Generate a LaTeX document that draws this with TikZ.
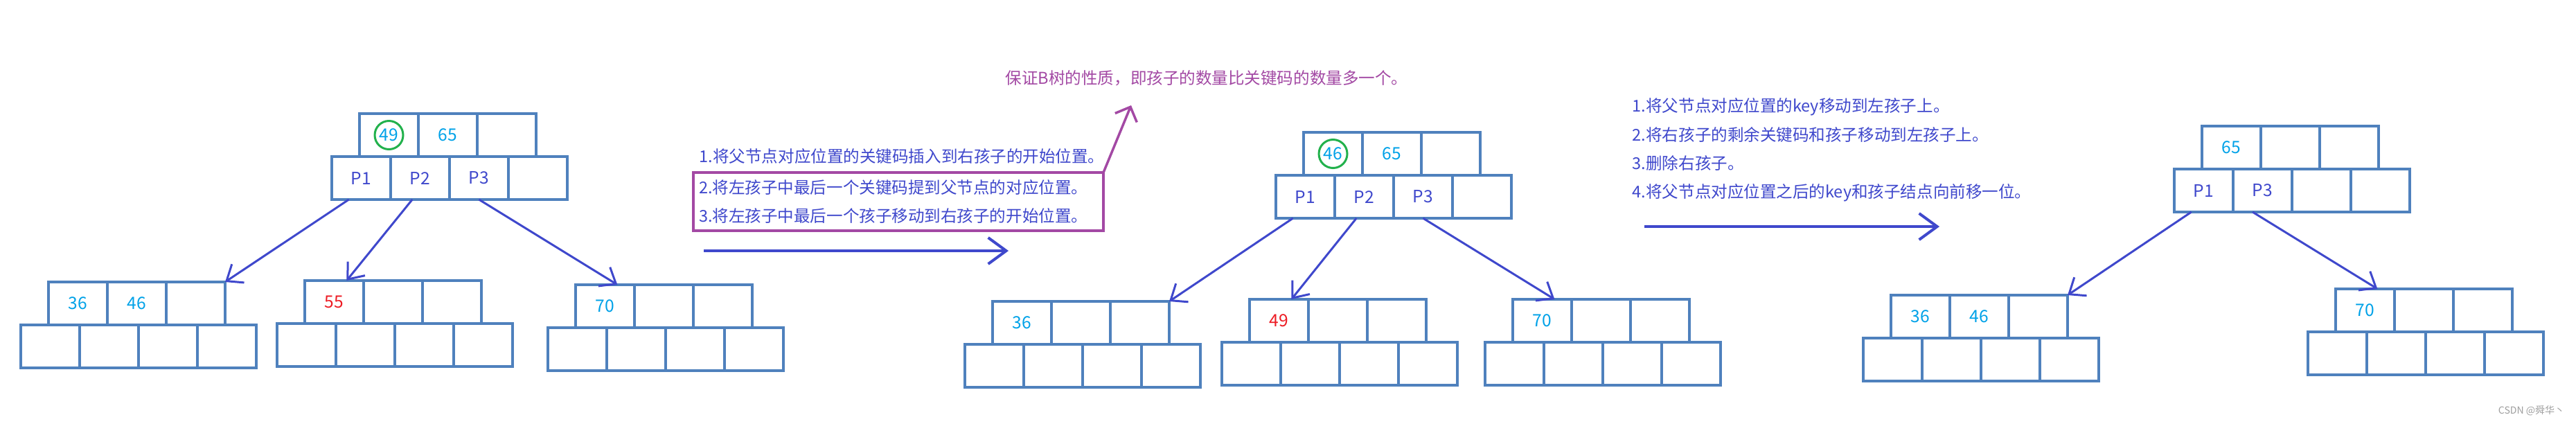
\documentclass[tikz,border=0pt]{standalone}
\usepackage{fontspec}
\setmainfont{Noto Sans CJK SC}
\usepackage{xcolor}
\usepackage{tikz}
\usetikzlibrary{arrows.meta}

\definecolor{cellblue}{RGB}{79,129,189}
\definecolor{linkblue}{RGB}{63,72,204}
\definecolor{keyblue}{RGB}{0,162,232}
\definecolor{keyred}{RGB}{237,28,36}
\definecolor{ringgreen}{RGB}{34,177,76}
\definecolor{notepurple}{RGB}{163,73,164}

% one B-tree node: name, top left of its pointer row, keys, pointers
\newcommand{\btnode}[4]{%
  \begin{scope}[shift={#2}]
    \foreach \k [count=\i] in {#3}
      \node[keycell] (#1k\i) at (\i*8.5mm-0.25mm,3.1mm) {\k};
    \foreach \p [count=\i] in {#4}
      \node[ptrcell] (#1p\i) at (\i*8.5mm-4.25mm,-3.1mm) {\p};
  \end{scope}}

\begin{document}
\begin{tikzpicture}[
      cell/.style={draw=cellblue, line width=0.45mm, minimum width=8.5mm,
                   minimum height=6.2mm, inner sep=0pt, outer sep=0pt,
                   font=\fontsize{7pt}{8pt}\selectfont},
      keycell/.style={cell, text=keyblue},
      ptrcell/.style={cell, text=linkblue},
      ring/.style={circle, draw=ringgreen, line width=0.3mm, minimum size=4.1mm,
                   inner sep=0pt},
      link/.style={draw=linkblue, line width=0.3mm,
                   -{Straight Barb[length=2mm,width=3.2mm]}},
      go/.style={draw=linkblue, line width=0.4mm,
                 -{Straight Barb[length=2.6mm,width=3.8mm]}},
      hint/.style={draw=notepurple, line width=0.35mm,
                   -{Straight Barb[length=1.7mm,width=3.4mm]}},
      note/.style={text=linkblue, inner sep=0pt, align=left,
                   font=\fontsize{6.7pt}{11.8pt}\selectfont},
      notebox/.style={draw=notepurple, line width=0.4mm, outer sep=0pt,
                      inner xsep=0.8mm, inner ysep=0.5mm, text width=57.6mm,
                      minimum height=8.4mm}]

    \path[use as bounding box, fill=white] (0,0) rectangle (371.9mm,-61.1mm);

    % first tree
    \btnode{root1}{(47.9mm,-22.6mm)}{49,65,{}}{P1,P2,P3,{}}
    \btnode{left1}{(3.0mm,-46.9mm)}{36,46,{}}{{},{},{},{}}
    \btnode{mid1}{(40.0mm,-46.7mm)}{{\textcolor{keyred}{55}},{},{}}{{},{},{},{}}
    \btnode{right1}{(79.1mm,-47.3mm)}{70,{},{}}{{},{},{},{}}
    \node[ring] (ring1) at (root1k1) {};
    \draw[link] (root1p1.-120) -- (left1k3.north east);
    \draw[link] (root1p2.-110) -- (mid1k1.60);
    \draw[link] (root1p3.south) -- (right1k1.60);

    % first step
    \node[note, anchor=west] (step1) at (100.9mm,-22.6mm)
      {1.将父节点对应位置的关键码插入到右孩子的开始位置。};
    \node[note, notebox, anchor=north west] (step23) at (100.1mm,-24.9mm)
      {2.将左孩子中最后一个关键码提到父节点的对应位置。\\
       3.将左孩子中最后一个孩子移动到右孩子的开始位置。};
    \node[note, text=notepurple, anchor=west] (rule) at (145.1mm,-11.3mm)
      {保证B树的性质，即孩子的数量比关键码的数量多一个。};
    \coordinate (ruletip) at (163.3mm,-15.2mm);
    \draw[hint] (step23.north east) -- (ruletip);
    \coordinate (go1a) at (101.6mm,-36.2mm);
    \coordinate (go1b) at (145.6mm,-36.2mm);
    \draw[go] (go1a) -- (go1b);

    % second tree
    \btnode{root2}{(184.2mm,-25.3mm)}{46,65,{}}{P1,P2,P3,{}}
    \btnode{left2}{(139.3mm,-49.7mm)}{36,{},{}}{{},{},{},{}}
    \btnode{mid2}{(176.4mm,-49.4mm)}{{\textcolor{keyred}{49}},{},{}}{{},{},{},{}}
    \btnode{right2}{(214.4mm,-49.4mm)}{70,{},{}}{{},{},{},{}}
    \node[ring] (ring2) at (root2k1) {};
    \draw[link] (root2p1.-120) -- (left2k3.north east);
    \draw[link] (root2p2.-110) -- (mid2k1.60);
    \draw[link] (root2p3.south) -- (right2k1.60);

    % second step
    \node[note, anchor=west] (steps) at (235.6mm,-21.65mm)
      {1.将父节点对应位置的key移动到左孩子上。\\
       2.将右孩子的剩余关键码和孩子移动到左孩子上。\\
       3.删除右孩子。\\
       4.将父节点对应位置之后的key和孩子结点向前移一位。};
    \coordinate (go2a) at (237.4mm,-32.7mm);
    \coordinate (go2b) at (280.0mm,-32.7mm);
    \draw[go] (go2a) -- (go2b);

    % third tree
    \btnode{root3}{(313.9mm,-24.4mm)}{65,{},{}}{P1,P3,{},{}}
    \btnode{left3}{(269.0mm,-48.8mm)}{36,46,{}}{{},{},{},{}}
    \btnode{right3}{(333.2mm,-47.9mm)}{70,{},{}}{{},{},{},{}}
    \draw[link] (root3p1.-120) -- (left3k3.north east);
    \draw[link] (root3p2.-115) -- (right3k1.60);

    \node[anchor=east, inner sep=0pt, text=gray!75,
          font=\fontsize{4pt}{5pt}\selectfont] (mark) at (370.3mm,-59.3mm)
      {CSDN @舜华丶};
  \end{tikzpicture}
\end{document}
